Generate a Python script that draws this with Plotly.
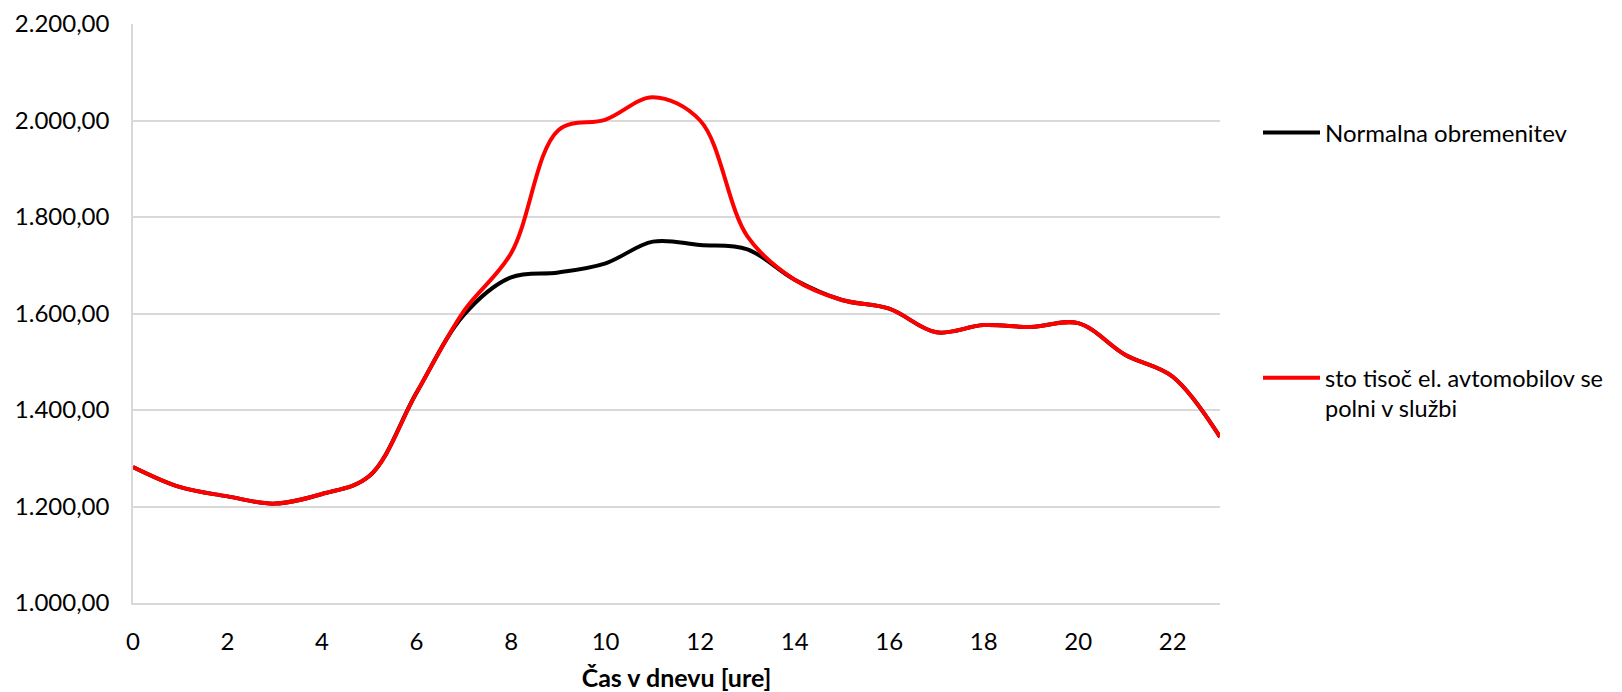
import plotly.graph_objects as go

hours = list(range(24))
normal_load = [1282, 1240, 1221, 1206, 1226, 1263, 1436, 1597, 1675, 1685, 1704, 1749,
               1742, 1733, 1670, 1628, 1610, 1561, 1576, 1572, 1580, 1514, 1469, 1344]
ev_load = [1282, 1240, 1221, 1206, 1226, 1263, 1436, 1605, 1725, 1980, 2002, 2048,
           2000, 1760, 1670, 1628, 1610, 1561, 1576, 1572, 1580, 1514, 1469, 1344]
x_ticks = list(range(0, 23, 2))
y_ticks = [1000, 1200, 1400, 1600, 1800, 2000, 2200]

FONT = "Lato"
# the page body keeps an 8px default margin; size the figure to fit the window
OFF = 8
W, H = 1622 - 2 * OFF, 692 - OFF
ML, MT = 133 - OFF, 24 - OFF
PLOT_R, PLOT_B = 1220 - OFF, 603 - OFF
MR, MB = W - PLOT_R, H - PLOT_B

fig = go.Figure()
fig.add_trace(go.Scatter(
    x=hours, y=normal_load, mode="lines", name="Normalna obremenitev",
    line=dict(color="#000000", width=4, shape="spline"), legend="legend"))
fig.add_trace(go.Scatter(
    x=hours, y=ev_load, mode="lines",
    name="sto tisoč el. avtomobilov se<br>polni v službi",
    line=dict(color="#ff0000", width=4, shape="spline"), legend="legend2"))

pw = PLOT_R - ML
ph = PLOT_B - MT
lx = (1258 - OFF - ML) / pw

def py(y_real):
    return 1 - (y_real - OFF - MT) / ph

fig.update_layout(
    width=W, height=H,
    margin=dict(l=ML, r=MR, t=MT, b=MB, autoexpand=False),
    paper_bgcolor="white", plot_bgcolor="white",
    font=dict(family=FONT, size=24, color="#000000"),
    separators=",.",
    showlegend=True,
    legend=dict(x=lx, xanchor="left", y=py(133), yanchor="middle", itemwidth=57,
                font=dict(family=FONT, size=24), bgcolor="rgba(0,0,0,0)"),
    legend2=dict(x=lx, xanchor="left", y=py(356), yanchor="top", itemwidth=57,
                 valign="top", font=dict(family=FONT, size=23.5), bgcolor="rgba(0,0,0,0)"),
    xaxis=dict(range=[0, 23], tickvals=x_ticks, showgrid=False, zeroline=False,
               showline=True, linecolor="#d9d9d9", linewidth=1.5, automargin=False,
               ticks="", ticklabelstandoff=16,
               title=dict(text="<b>Čas v dnevu [ure]</b>", font=dict(family=FONT, size=25),
                          standoff=18)),
    yaxis=dict(range=[1000, 2200], tickvals=y_ticks, tickformat=",.2f", automargin=False,
               showgrid=True, gridcolor="#d9d9d9", gridwidth=1.5, zeroline=False,
               showline=True, linecolor="#d9d9d9", linewidth=1.5,
               ticks="", ticklabelstandoff=17),
)

fig.write_html("out.html")
